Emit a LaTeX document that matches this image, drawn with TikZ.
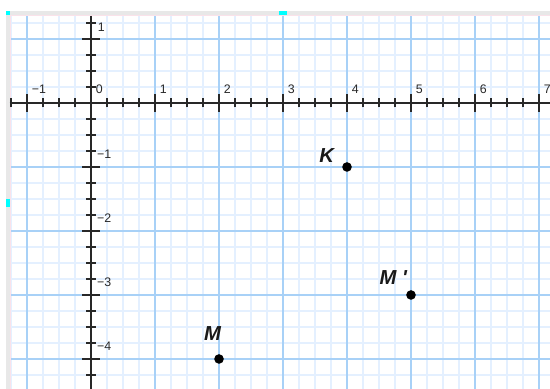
\documentclass[tikz,border=0pt]{standalone}
\usepackage{fontspec}
\newfontfamily\lblfont{Liberation Sans}
\usetikzlibrary{positioning}
\definecolor{gridminor}{RGB}{228,240,255}
\definecolor{gridmajor}{RGB}{168,209,247}
\definecolor{framegrey}{RGB}{232,232,232}
\definecolor{edgepink}{RGB}{250,226,234}
\definecolor{axisgrey}{RGB}{40,40,40}
\definecolor{handle}{RGB}{0,255,255}

\begin{document}
\begin{tikzpicture}[
  gridthin/.style={gridminor, line width=0.5pt},
  gridthick/.style={gridmajor, line width=0.75pt},
  axisline/.style={axisgrey, line width=0.65pt},
  tickmark/.style={axisgrey, line width=0.6pt},
  num/.style={inner sep=0pt, anchor=south west, text=axisgrey,
    font=\lblfont\fontsize{5.5}{6.5}\selectfont},
  dot/.style={circle, fill=black, inner sep=0pt, minimum size=0.15cm},
  pt/.style={inner sep=0pt, text=black!90,
    font=\lblfont\bfseries\itshape\fontsize{9}{10}\selectfont}]
  \useasboundingbox (-1.422,-4.469) rectangle (7.172,1.609);
  % frame of the sheet
  \fill[framegrey] (-1.328,-4.469) rectangle (7.172,1.4375);
  \fill[white] (-1.266,-4.469) rectangle (7.172,1.375);
  \draw[gridthin, step=0.25] (-1.266,-4.469) grid (7.172,1.375);
  \draw[gridthick, step=1] (-1.266,-4.469) grid (7.172,1.375);
  \draw[edgepink, line width=0.4pt] (-1.266,-4.469) -- (-1.266,1.375) -- (7.172,1.375);
  % selection handles
  \fill[handle] (-1.328,1.375) rectangle (-1.266,1.4375);
  \fill[handle] (2.9375,1.375) rectangle (3.0625,1.4375);
  \fill[handle] (-1.328,-1.625) rectangle (-1.266,-1.5);
  % axes
  \draw[axisline] (-1.27,0) -- (7.172,0);
  \draw[axisline] (0,1.36) -- (0,-4.469);
  \foreach \x in {-1.25,-1,...,7}
    \draw[tickmark] (\x,-0.07) -- (\x,0.07);
  \foreach \x in {-1,1,2,...,7}
    \draw[tickmark] (\x,-0.135) -- (\x,0.135);
  \foreach \y in {1.25,1,...,-4.25}
    \draw[tickmark] (-0.075,\y) -- (0.075,\y);
  \foreach \y in {1,-1,-2,-3,-4}
    \draw[tickmark] (-0.14,\y) -- (0.14,\y);
  % numbers
  \node[num, xshift=0.07cm, yshift=0.14cm] (x0) at (0,0) {0};
  \node[num, xshift=0.07cm, yshift=0.14cm] (xm1) at (-1,0) {−1};
  \foreach \x in {1,...,7}
    \node[num, xshift=0.07cm, yshift=0.14cm] (x\x) at (\x,0) {\x};
  \node[num, xshift=0.1cm, yshift=0.11cm] (y1) at (0,1) {1};
  \foreach \y in {1,...,4}
    \node[num, xshift=0.09cm, yshift=0.13cm] (ym\y) at (0,-\y) {−\y};
  % points
  \node[dot] (K) at (4,-1) {};
  \node[dot] (Mp) at (5,-3) {};
  \node[dot] (M) at (2,-4) {};
  \node[pt, above left=0.01cm and 0.14cm of K] (lk) {K};
  \node[pt, above left=0.1cm and 0cm of Mp] (lmp) {M '};
  \node[pt, above=0.2cm of M, xshift=-0.1cm] (lm) {M};
\end{tikzpicture}
\end{document}
